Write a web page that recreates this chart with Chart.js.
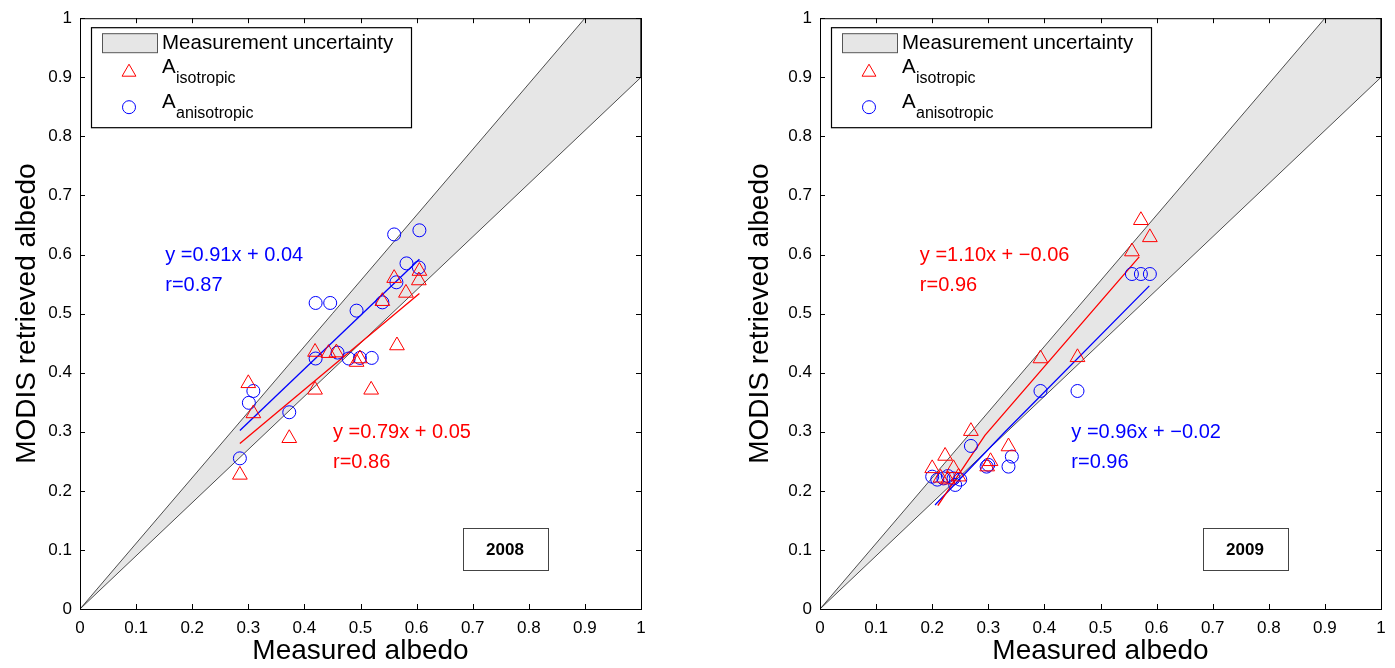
<!DOCTYPE html>
<html lang="en">
<head>
<meta charset="UTF-8">
<title>MODIS retrieved albedo vs measured albedo</title>
<script src="https://cdn.jsdelivr.net/npm/chart.js"></script>
<style>
    body {
        margin: 0;
        background: #ffffff;
        width: 1395px;
        height: 668px;
        overflow: hidden;
        position: relative;
    }
    .panel {
        position: absolute;
        top: 0;
        height: 668px;
    }
</style>
</head>
<body>
<div class="panel" style="left:0;width:697px"><canvas id="c2008" width="697" height="668"></canvas></div>
<div class="panel" style="left:697px;width:698px"><canvas id="c2009" width="698" height="668"></canvas></div>

<script>
// axis ticks (same on both axes, both panels)
const tickValues = [0, 0.1, 0.2, 0.3, 0.4, 0.5, 0.6, 0.7, 0.8, 0.9, 1];
const tickLabels = ['0', '0.1', '0.2', '0.3', '0.4', '0.5', '0.6', '0.7', '0.8', '0.9', '1'];

// measurement uncertainty band (closed outline)
const bandX = [0, 0.9, 1, 1, 0];
const bandY = [0, 1, 1, 0.9, 0];

// 2008
const iso2008X = [0.560, 0.605, 0.604, 0.581, 0.539, 0.565, 0.419, 0.443, 0.457, 0.493, 0.499, 0.519, 0.419, 0.300, 0.309, 0.373, 0.285];
const iso2008Y = [0.560, 0.572, 0.556, 0.535, 0.521, 0.446, 0.435, 0.433, 0.434, 0.418, 0.424, 0.371, 0.371, 0.382, 0.331, 0.289, 0.227];
const aniso2008X = [0.560, 0.605, 0.582, 0.604, 0.564, 0.420, 0.446, 0.493, 0.539, 0.420, 0.459, 0.479, 0.499, 0.520, 0.309, 0.301, 0.373, 0.285];
const aniso2008Y = [0.634, 0.641, 0.585, 0.578, 0.553, 0.518, 0.518, 0.505, 0.519, 0.424, 0.434, 0.424, 0.425, 0.425, 0.369, 0.349, 0.333, 0.255];
const fitIso2008X = [0.285, 0.605];
const fitIso2008Y = [0.280, 0.534];
const fitAniso2008X = [0.285, 0.605];
const fitAniso2008Y = [0.302, 0.592];

// 2009
const iso2009X = [0.572, 0.588, 0.556, 0.393, 0.459, 0.269, 0.336, 0.304, 0.298, 0.223, 0.200, 0.238, 0.215, 0.247, 0.228];
const iso2009Y = [0.658, 0.629, 0.605, 0.424, 0.426, 0.301, 0.275, 0.250, 0.241, 0.259, 0.238, 0.238, 0.222, 0.224, 0.219];
const aniso2009X = [0.556, 0.572, 0.588, 0.393, 0.459, 0.269, 0.342, 0.336, 0.300, 0.297, 0.200, 0.209, 0.220, 0.228, 0.238, 0.241, 0.250];
const aniso2009Y = [0.567, 0.567, 0.567, 0.369, 0.369, 0.276, 0.258, 0.241, 0.244, 0.241, 0.224, 0.219, 0.221, 0.225, 0.221, 0.210, 0.219];
const fitIso2009X = [0.210, 0.294, 0.569];
const fitIso2009Y = [0.175, 0.294, 0.596];
const fitAniso2009X = [0.205, 0.330, 0.587];
const fitAniso2009Y = [0.176, 0.300, 0.547];

const RED = '#ff0000';
const BLUE = '#0000ff';
const FONT = '"Liberation Sans", Arial, Helvetica, sans-serif';

Chart.defaults.font.family = FONT;
Chart.defaults.color = '#000000';

function pts(xs, ys) {
    return xs.map((v, i) => ({ x: v, y: ys[i] }));
}

// frame, inward ticks, legend, fit labels and year box
const decor = {
    id: 'decor',
    beforeDraw(chart) {
        const ctx = chart.ctx;
        ctx.save();
        ctx.fillStyle = '#ffffff';
        ctx.fillRect(0, 0, chart.width, chart.height);
        ctx.restore();
    },
    afterDatasetsDraw(chart, args, o) {
        const { ctx, chartArea: a, scales: { x, y } } = chart;
        ctx.save();

        // axes box with ticks pointing inward on all four sides
        ctx.strokeStyle = '#000';
        ctx.lineWidth = 1;
        ctx.strokeRect(a.left + 0.5, a.top + 0.5, a.right - a.left, a.bottom - a.top);
        ctx.beginPath();
        tickValues.forEach(v => {
            const px = Math.round(x.getPixelForValue(v)) + 0.5;
            const py = Math.round(y.getPixelForValue(v)) + 0.5;
            ctx.moveTo(px, a.bottom); ctx.lineTo(px, a.bottom - 5);
            ctx.moveTo(px, a.top); ctx.lineTo(px, a.top + 5);
            ctx.moveTo(a.left, py); ctx.lineTo(a.left + 5, py);
            ctx.moveTo(a.right, py); ctx.lineTo(a.right - 5, py);
        });
        ctx.stroke();

        // legend
        const lx = a.left + 11, ly = a.top + 9;
        ctx.fillStyle = '#fff';
        ctx.fillRect(lx, ly, 320, 100);
        ctx.lineWidth = 1.2;
        ctx.strokeRect(lx + 0.5, ly + 0.5, 320, 100);
        ctx.fillStyle = '#e6e6e6';
        ctx.fillRect(lx + 11, ly + 6, 55, 19);
        ctx.strokeStyle = '#555';
        ctx.lineWidth = 1;
        ctx.strokeRect(lx + 11.5, ly + 6.5, 55, 19);

        ctx.fillStyle = '#000';
        ctx.textBaseline = 'middle';
        ctx.textAlign = 'left';
        ctx.font = '20.5px ' + FONT;
        ctx.fillText('Measurement uncertainty', lx + 71, ly + 16);

        // triangle marker
        ctx.strokeStyle = RED;
        ctx.beginPath();
        const tx = lx + 38, ty = ly + 45, r = 8;
        ctx.moveTo(tx, ty - r);
        ctx.lineTo(tx + r * 0.866, ty + r / 2);
        ctx.lineTo(tx - r * 0.866, ty + r / 2);
        ctx.closePath();
        ctx.stroke();
        // circle marker
        ctx.strokeStyle = BLUE;
        ctx.beginPath();
        ctx.arc(lx + 38, ly + 80, 6.5, 0, Math.PI * 2);
        ctx.stroke();

        ctx.fillStyle = '#000';
        ctx.font = '20.5px ' + FONT;
        ctx.fillText('A', lx + 71, ly + 40);
        ctx.fillText('A', lx + 71, ly + 75);
        ctx.font = '16px ' + FONT;
        ctx.fillText('isotropic', lx + 85, ly + 51);
        ctx.fillText('anisotropic', lx + 85, ly + 86);

        // fit equations
        ctx.font = '20px ' + FONT;
        o.notes.forEach(n => {
            ctx.fillStyle = n.color;
            ctx.fillText(n.text, x.getPixelForValue(n.x), y.getPixelForValue(n.y));
        });

        // year box
        const bx0 = x.getPixelForValue(0.682), bx1 = x.getPixelForValue(0.833);
        const by0 = y.getPixelForValue(0.1376), by1 = y.getPixelForValue(0.066);
        ctx.fillStyle = '#fff';
        ctx.fillRect(bx0, by0, bx1 - bx0, by1 - by0);
        ctx.strokeStyle = '#444';
        ctx.lineWidth = 1;
        ctx.strokeRect(Math.round(bx0) + 0.5, Math.round(by0) + 0.5, Math.round(bx1 - bx0), Math.round(by1 - by0));
        ctx.fillStyle = '#000';
        ctx.textAlign = 'center';
        ctx.font = 'bold 17px ' + FONT;
        ctx.fillText(o.year, (bx0 + bx1) / 2, (by0 + by1) / 2 + 1);

        ctx.restore();
    }
};

function makeChart(id, cfg) {
    return new Chart(document.getElementById(id).getContext('2d'), {
        type: 'scatter',
        data: {
            datasets: [
                { data: pts(cfg.isoX, cfg.isoY), pointStyle: 'triangle', pointRadius: 8.5, borderColor: RED, backgroundColor: 'rgba(0,0,0,0)', borderWidth: 1, order: 1 },
                { data: pts(cfg.anisoX, cfg.anisoY), pointStyle: 'circle', pointRadius: 6.5, borderColor: BLUE, backgroundColor: 'rgba(0,0,0,0)', borderWidth: 1, order: 1 },
                { data: pts(cfg.fitIsoX, cfg.fitIsoY), showLine: true, pointRadius: 0, borderColor: RED, borderWidth: 1.3, order: 2 },
                { data: pts(cfg.fitAnisoX, cfg.fitAnisoY), showLine: true, pointRadius: 0, borderColor: BLUE, borderWidth: 1.3, order: 2 },
                { data: pts(bandX, bandY), showLine: true, fill: 'shape', pointRadius: 0, borderColor: '#222', borderWidth: 0.8, backgroundColor: '#e6e6e6', order: 3 }
            ]
        },
        options: {
            responsive: false,
            animation: false,
            devicePixelRatio: 1,
            layout: { padding: cfg.padding },
            plugins: {
                legend: { display: false },
                tooltip: { enabled: false },
                decor: { notes: cfg.notes, year: cfg.year }
            },
            scales: {
                x: {
                    type: 'linear', min: 0, max: 1,
                    grid: { display: false, drawTicks: false },
                    border: { display: false },
                    ticks: { stepSize: 0.1, padding: 9, font: { size: 17 }, maxRotation: 0, callback: (v, i) => tickLabels[i] },
                    title: { display: true, text: 'Measured albedo', font: { size: 28 }, padding: { top: 0, bottom: 0 } },
                    afterFit: s => { s.height = 59; }
                },
                y: {
                    type: 'linear', min: 0, max: 1,
                    grid: { display: false, drawTicks: false },
                    border: { display: false },
                    ticks: { stepSize: 0.1, padding: 8, font: { size: 17 }, callback: (v, i) => tickLabels[i] },
                    title: { display: true, text: 'MODIS retrieved albedo', font: { size: 28 }, padding: { top: cfg.yTitlePad, bottom: 0 } },
                    afterFit: s => { s.width = cfg.yWidth; }
                }
            }
        },
        plugins: [decor]
    });
}

makeChart('c2008', {
    isoX: iso2008X, isoY: iso2008Y, anisoX: aniso2008X, anisoY: aniso2008Y,
    fitIsoX: fitIso2008X, fitIsoY: fitIso2008Y, fitAnisoX: fitAniso2008X, fitAnisoY: fitAniso2008Y,
    padding: { left: 0, top: 18, right: 56, bottom: 0 },
    yWidth: 80, yTitlePad: 10,
    year: '2008',
    notes: [
        { text: 'y =0.91x + 0.04', x: 0.152, y: 0.599, color: BLUE },
        { text: 'r=0.87', x: 0.152, y: 0.548, color: BLUE },
        { text: 'y =0.79x + 0.05', x: 0.451, y: 0.299, color: RED },
        { text: 'r=0.86', x: 0.451, y: 0.248, color: RED }
    ]
});

makeChart('c2009', {
    isoX: iso2009X, isoY: iso2009Y, anisoX: aniso2009X, anisoY: aniso2009Y,
    fitIsoX: fitIso2009X, fitIsoY: fitIso2009Y, fitAnisoX: fitAniso2009X, fitAnisoY: fitAniso2009Y,
    padding: { left: 0, top: 18, right: 14, bottom: 0 },
    yWidth: 123, yTitlePad: 46,
    year: '2009',
    notes: [
        { text: 'y =1.10x + \u22120.06', x: 0.178, y: 0.599, color: RED },
        { text: 'r=0.96', x: 0.178, y: 0.548, color: RED },
        { text: 'y =0.96x + \u22120.02', x: 0.448, y: 0.299, color: BLUE },
        { text: 'r=0.96', x: 0.448, y: 0.248, color: BLUE }
    ]
});
</script>
</body>
</html>
